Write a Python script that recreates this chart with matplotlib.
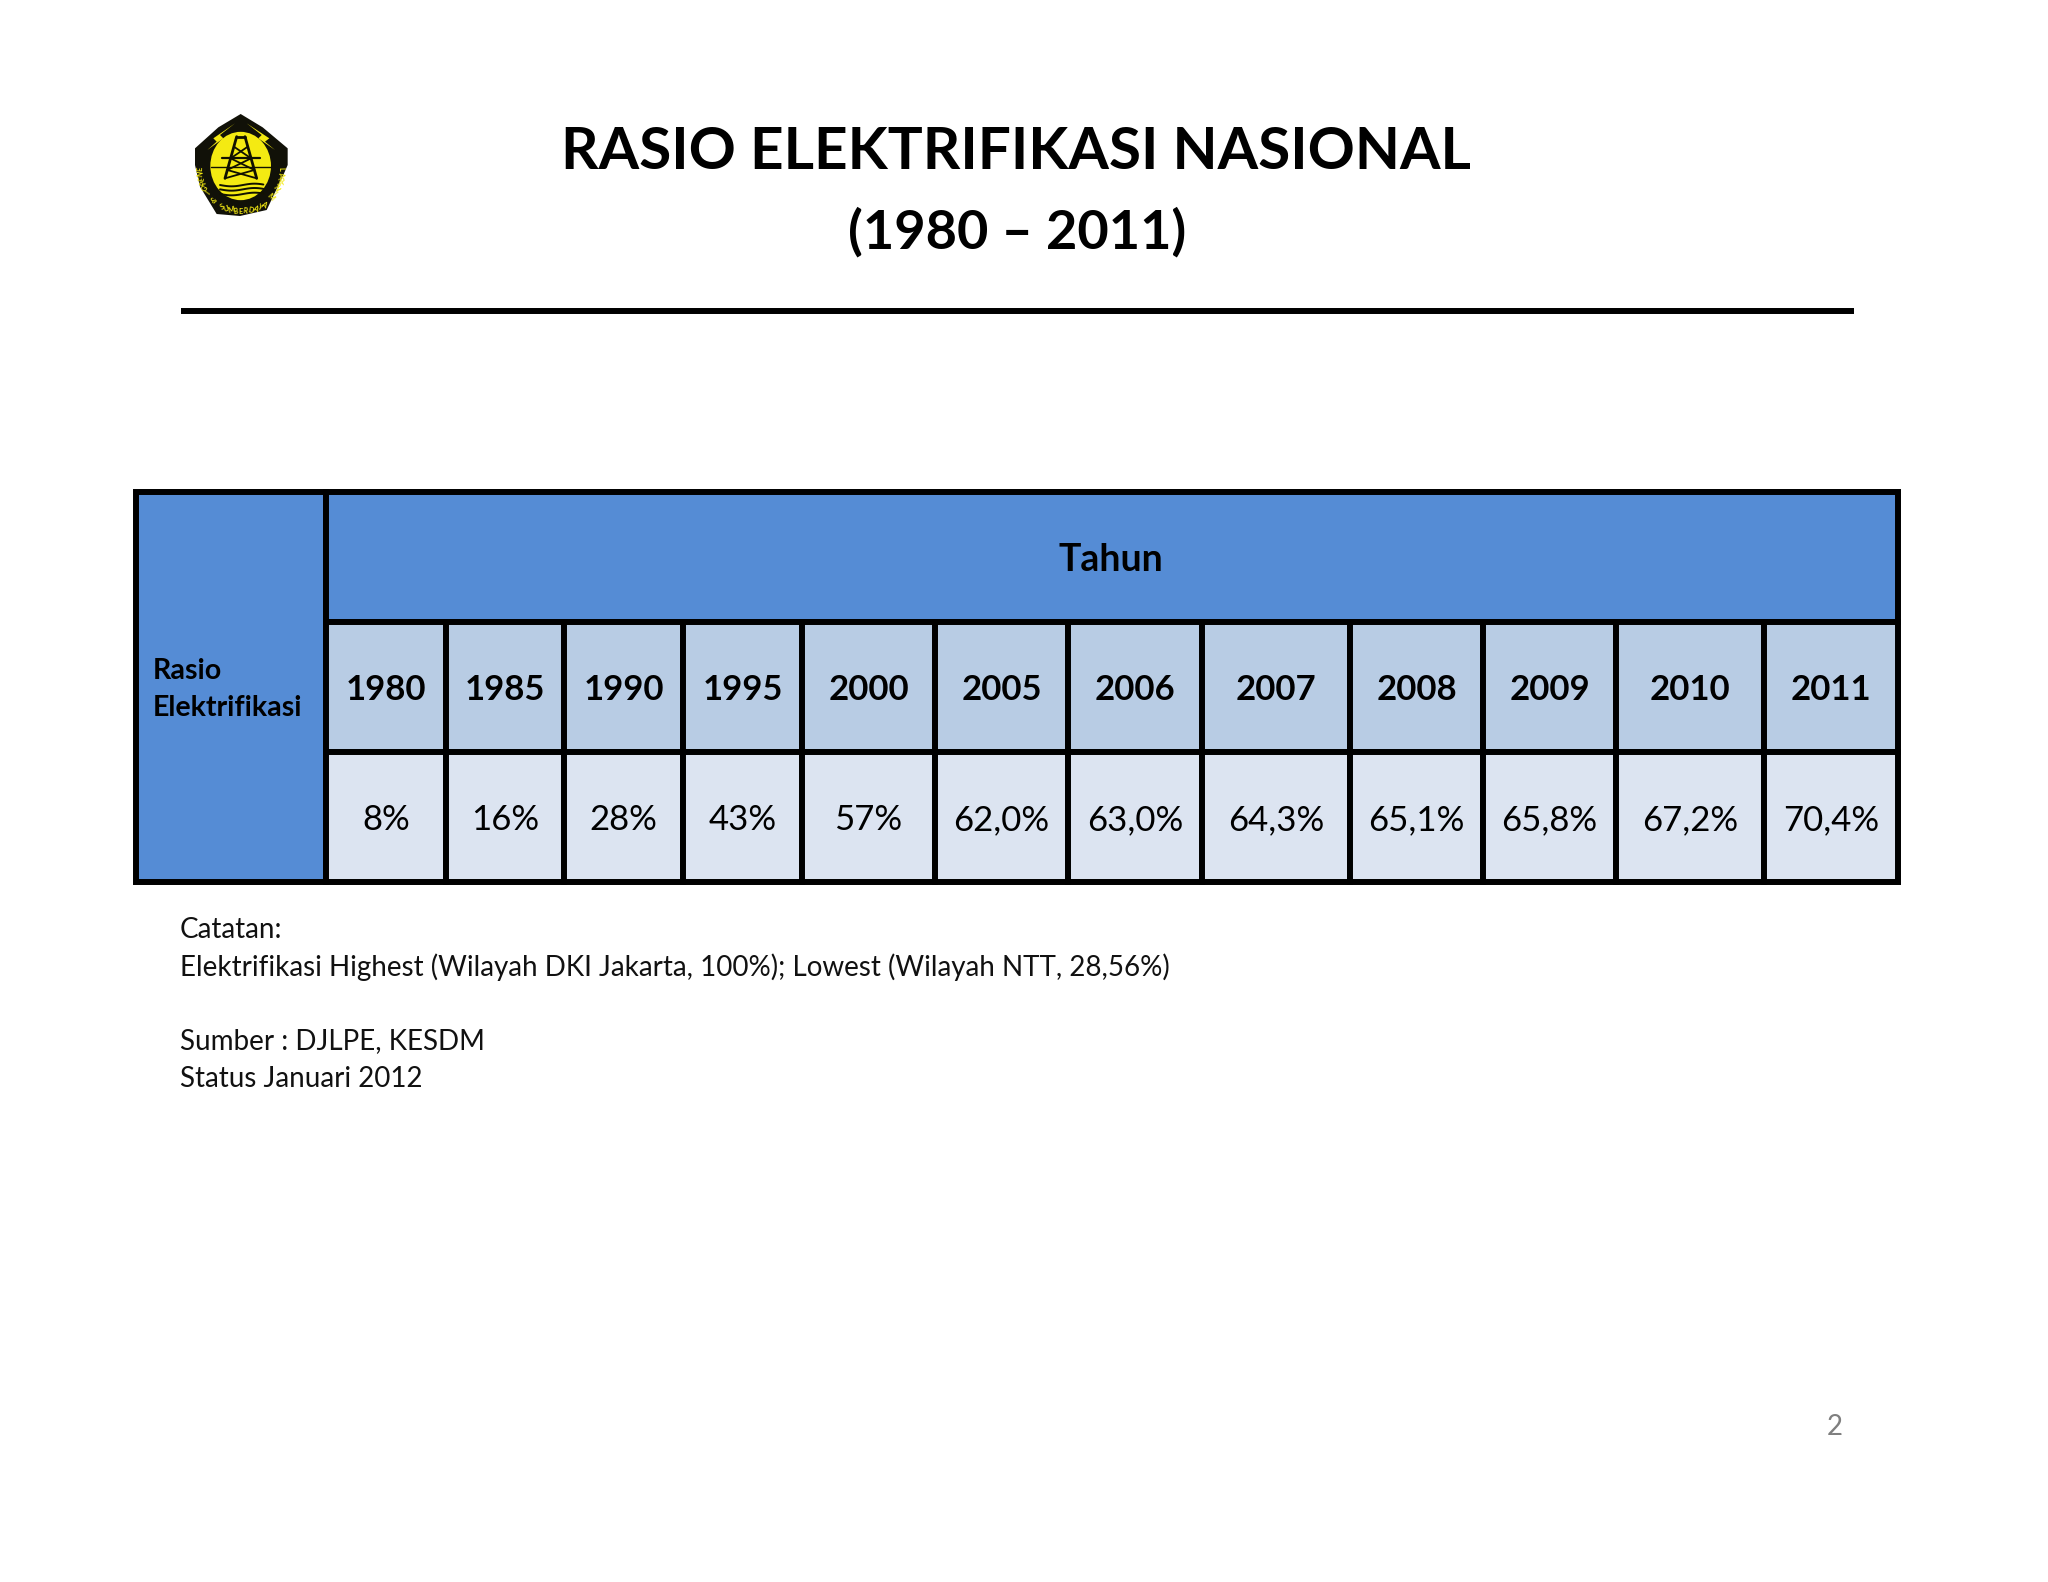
import numpy as np
import matplotlib
matplotlib.use('Agg')
import matplotlib.pyplot as plt
from matplotlib.patches import Rectangle, Polygon, Ellipse

plt.rcParams['font.family'] = ['Lato', 'DejaVu Sans']

# data of the table
years = ['1980', '1985', '1990', '1995', '2000', '2005', '2006', '2007', '2008', '2009', '2010', '2011']
rasio = ['8%', '16%', '28%', '43%', '57%', '62,0%', '63,0%', '64,3%', '65,1%', '65,8%', '67,2%', '70,4%']
title_lines = ['RASIO ELEKTRIFIKASI NASIONAL', '(1980 – 2011)']
catatan = ['Catatan:',
           'Elektrifikasi Highest (Wilayah DKI Jakarta, 100%); Lowest (Wilayah NTT, 28,56%)',
           '',
           'Sumber : DJLPE, KESDM',
           'Status Januari 2012']

# table grid in pixels of the page
col_edges = [326, 446, 564, 683, 802, 935, 1068, 1202, 1350, 1483, 1616, 1764, 1898]
row_edges = [492, 622, 752, 882]
left_edge = 136

DARK = '#558CD5'
MID = '#B8CCE4'
LIGHT = '#DCE4F1'
LW = 4.3

fig = plt.figure(figsize=(20.48, 15.82), dpi=100)
ax = fig.add_axes([0, 0, 1, 1])
ax.set_xlim(0, 2048)
ax.set_ylim(1582, 0)
ax.axis('off')

# judul
ax.text(1016, 169, title_lines[0], fontsize=42, fontweight='bold', ha='center', va='baseline', color='black')
ax.text(1017, 249, title_lines[1], fontsize=39, fontweight='bold', ha='center', va='baseline', color='black')
ax.plot([181, 1854], [311, 311], color='black', lw=LW, solid_capstyle='butt')


def cell(x0, y0, x1, y1, color):
    ax.add_patch(Rectangle((x0, y0), x1 - x0, y1 - y0, facecolor=color, edgecolor='black', lw=LW, joinstyle='miter'))


# kolom kiri dan header
cell(left_edge, row_edges[0], col_edges[0], row_edges[3], DARK)
cell(col_edges[0], row_edges[0], col_edges[-1], row_edges[1], DARK)
ax.text(1111, 571, 'Tahun', fontsize=27, fontweight='bold', ha='center', va='baseline')
ax.text(153, 679, 'Rasio', fontsize=20.6, fontweight='bold', ha='left', va='baseline')
ax.text(153, 716, 'Elektrifikasi', fontsize=20.6, fontweight='bold', ha='left', va='baseline')

# tahun dan nilai
for i in range(len(years)):
    x0, x1 = col_edges[i], col_edges[i + 1]
    cell(x0, row_edges[1], x1, row_edges[2], MID)
    cell(x0, row_edges[2], x1, row_edges[3], LIGHT)
    ax.text((x0 + x1) / 2, 700, years[i], fontsize=25, fontweight='bold', ha='center', va='baseline')
    ax.text((x0 + x1) / 2, 830, rasio[i], fontsize=25, ha='center', va='baseline')

# catatan
for line, base in zip(catatan, [938, 976, 1012, 1049, 1087]):
    ax.text(180, base, line, fontsize=20, ha='left', va='baseline', color='#111111')

ax.text(1835, 1435, '2', fontsize=20, ha='center', va='baseline', color='#7f7f7f')


# logo, zoomed crop coordinates converted to page pixels
def lx(v):
    return 120 + np.asarray(v, dtype=float) / 3


def ly(v):
    return 90 + np.asarray(v, dtype=float) / 3


def shape(px, py, **kw):
    ax.add_patch(Polygon(np.column_stack([lx(px), ly(py)]), closed=True, **kw))


def stroke(px, py, lw=1.3, color='#111100'):
    ax.plot(lx(px), ly(py), color=color, lw=lw, solid_capstyle='round')


YEL = '#F4EA12'
shape([362, 428, 503, 503, 490, 440, 360, 290, 240, 225, 225, 295],
      [72, 112, 175, 225, 255, 360, 378, 372, 290, 225, 175, 112], facecolor='#111108', edgecolor='none')
ax.add_patch(Ellipse((lx(362), ly(228)), 182 / 3, 205 / 3, facecolor=YEL, edgecolor='none'))
# petir
shape([262, 290, 280, 345, 300, 310], [180, 155, 145, 100, 135, 145], facecolor=YEL, edgecolor='none')
shape([465, 435, 448, 380, 425, 415], [180, 155, 145, 100, 135, 145], facecolor=YEL, edgecolor='none')
# menara
stroke([350, 315], [140, 265], lw=2)
stroke([375, 410], [140, 265], lw=2)
stroke([350, 375], [140, 140], lw=2)
for a, b in [(170, 205), (205, 240), (240, 265)]:
    frac_a = (a - 140) / 125
    frac_b = (b - 140) / 125
    stroke([350 - 35 * frac_a, 375 + 35 * frac_b], [a, b])
    stroke([375 + 35 * frac_a, 350 - 35 * frac_b], [a, b])
stroke([305, 420], [205, 205], lw=1.6)
stroke([272, 452], [232, 232], lw=1)
for y0 in [285, 298, 312]:
    xs = np.linspace(300, 430, 20)
    stroke(xs, y0 + 4 * np.sin((xs - 300) / 22), lw=1.4)

# tulisan melingkar pada logo
logo_text = 'ENERGI & SUMBERDAYA MINERAL'
for i, ch in enumerate(logo_text):
    ang = np.radians(178 - i * (176 / (len(logo_text) - 1)))
    tx = 362 + 122 * np.cos(ang)
    ty = 232 + 132 * np.sin(ang)
    ax.text(lx(tx), ly(ty), ch, fontsize=5.2, fontweight='bold', color=YEL, ha='center', va='center',
            rotation=np.degrees(ang) - 90)

fig.savefig('out.png', dpi=100)
